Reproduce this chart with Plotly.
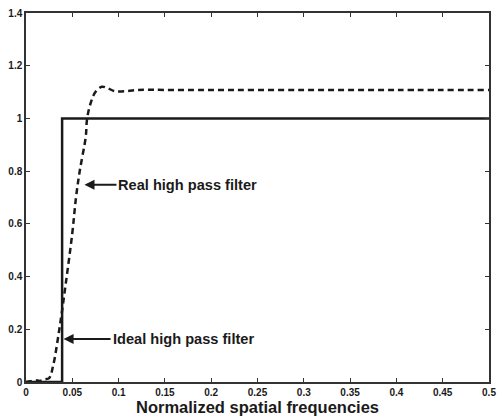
import plotly.graph_objects as go

# Ideal high pass filter: a step at the cutoff frequency
ideal_x = [0.0, 0.039, 0.039, 0.5]
ideal_y = [0.0, 0.0, 1.0, 1.0]

# Real high pass filter response
real_x = [0.0, 0.005, 0.01, 0.015, 0.02, 0.025, 0.029, 0.036, 0.043, 0.05, 0.054,
          0.058, 0.0645, 0.066, 0.07, 0.075, 0.082, 0.088, 0.095, 0.1, 0.11,
          0.12, 0.13, 0.15, 0.2, 0.3, 0.4, 0.5]
real_y = [0.0, 0.003, 0.007, 0.004, 0.01, 0.015, 0.057, 0.2, 0.375, 0.565, 0.70,
          0.80, 0.93, 1.0, 1.06, 1.1, 1.12, 1.115, 1.104, 1.102, 1.104,
          1.108, 1.109, 1.108, 1.108, 1.108, 1.108, 1.108]

x_ticks = [0, 0.05, 0.1, 0.15, 0.2, 0.25, 0.3, 0.35, 0.4, 0.45, 0.5]
x_tick_text = ["0", "0.05", "0.1", "0.15", "0.2", "0.25", "0.3", "0.35", "0.4", "0.45", "0.5"]
y_ticks = [0, 0.2, 0.4, 0.6, 0.8, 1.0, 1.2, 1.4]
y_tick_text = ["0", "0.2", "0.4", "0.6", "0.8", "1", "1.2", "1.4"]

FONT = "Liberation Sans, Arial, Helvetica, sans-serif"

fig = go.Figure()
fig.add_trace(go.Scatter(x=ideal_x, y=ideal_y, mode="lines",
                         line=dict(color="#1a1a1a", width=2.5), showlegend=False))
fig.add_trace(go.Scatter(x=real_x, y=real_y, mode="lines", line_shape="spline",
                         line=dict(color="#1a1a1a", width=2.5, dash="6px,4px"),
                         showlegend=False))

ann_font = dict(family=FONT, size=14.6, color="#1a1a1a")
fig.add_annotation(x=0.0545, y=0.748, xref="x", yref="y",
                   text="<b>Real high pass filter</b>", font=ann_font,
                   showarrow=True, arrowhead=2, arrowsize=1, arrowwidth=2,
                   arrowcolor="#1a1a1a", standoff=8,
                   axref="pixel", ayref="pixel", ax=40, ay=0,
                   xanchor="left", borderpad=1)
fig.add_annotation(x=0.0395, y=0.163, xref="x", yref="y",
                   text="<b>Ideal high pass filter</b>", font=ann_font,
                   showarrow=True, arrowhead=2, arrowsize=1, arrowwidth=2,
                   arrowcolor="#1a1a1a", standoff=1,
                   axref="pixel", ayref="pixel", ax=48, ay=0,
                   xanchor="left", borderpad=1)

axis_common = dict(showgrid=False, zeroline=False, ticks="inside", ticklen=4,
                   tickcolor="#333", linecolor="#333", linewidth=1.5,
                   mirror="ticks", showline=True,
                   tickfont=dict(family=FONT, size=10, color="#1a1a1a",
                                 weight="bold"))

fig.update_xaxes(range=[0, 0.5], tickvals=x_ticks, ticktext=x_tick_text,
                 title=dict(text="<b>Normalized spatial frequencies</b>",
                            font=dict(family=FONT, size=16.5, color="#1a1a1a"),
                            standoff=1),
                 **axis_common)
fig.update_yaxes(range=[0, 1.4], tickvals=y_ticks, ticktext=y_tick_text,
                 **axis_common)

fig.update_layout(width=502, height=418,
                  margin=dict(l=26, r=6, t=13, b=36),
                  paper_bgcolor="white", plot_bgcolor="white")

fig.write_html("out.html")
